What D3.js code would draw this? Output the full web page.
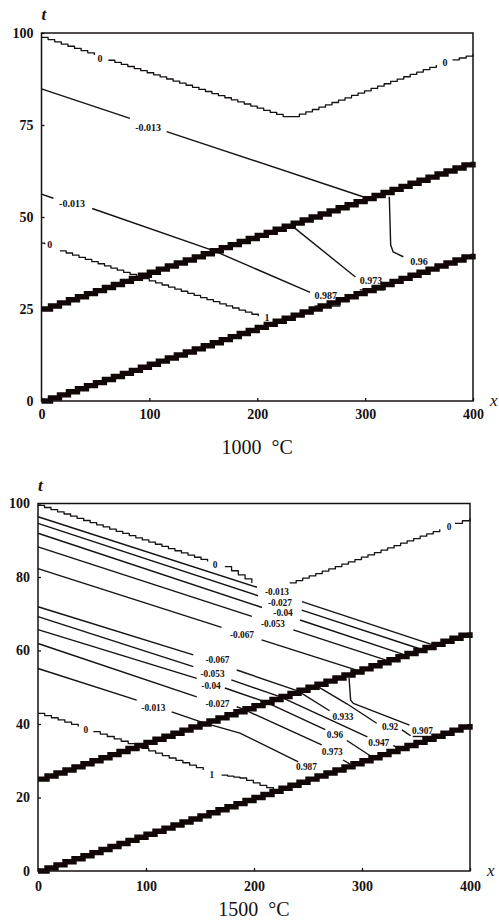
<!DOCTYPE html>
<html>
<head>
<meta charset="utf-8">
<script src="https://cdn.jsdelivr.net/npm/d3@7"></script>
<style>
  html, body { margin: 0; padding: 0; background: #fff; }
  svg { display: block; }
</style>
</head>
<body>
<svg id="chart" width="499" height="924"></svg>
<script>
// ---- data -------------------------------------------------------------
const xTicks = [0, 100, 200, 300, 400];
const tTicks1000 = [0, 25, 50, 75, 100];
const tTicks1500 = [0, 20, 40, 60, 80, 100];

// the two fronts bounding the strip: t = x/10 and t = 25 + x/10
const fronts = [
  [[0, 0], [400, 40]],
  [[0, 25], [400, 65]]
];

// isolines, 1000 °C: pieces of polylines in (x, t)
const iso1000 = [
  { stepped: true,  pieces: [[[0, 98.8], [49, 94]], [[62, 92.6], [224, 77.3], [233, 77.3], [366, 91.3]], [[381, 92.7], [400, 94.2]]] },
  { stepped: false, pieces: [[[0, 84.8], [82, 76.8]], [[116, 73.2], [298, 55.5]]] },
  { stepped: false, pieces: [[[0, 56.2], [11, 55.1]], [[47, 52.3], [160, 40.8], [249, 29.5]], [[253, 25.8], [277, 25.8]]] },
  { stepped: true,  pieces: [[[0, 42.9], [3, 42.6]], [[17, 40.8], [88, 33.8], [201, 23]]] },
  { stepped: false, pieces: [[[230.5, 48], [291, 33.7]], [[295, 30.2], [318, 30.2]]] },
  { stepped: false, pieces: [[[322.4, 55.5], [323.7, 42.4], [326, 40.5], [335.4, 39.2]]] }
];
const labels1000 = [
  { text: "0", x: 54.3, t: 93.1 },
  { text: "0", x: 374, t: 92.1 },
  { text: "-0.013", x: 98.8, t: 74.2 },
  { text: "-0.013", x: 28.3, t: 53.8 },
  { text: "0", x: 7.6, t: 42.4 },
  { text: "1", x: 209, t: 22.6 },
  { text: "0.987", x: 263.5, t: 28.6 },
  { text: "0.973", x: 305.5, t: 32.8 },
  { text: "0.96", x: 350, t: 38 }
];

// isolines, 1500 °C
const iso1500 = [
  { stepped: true,  pieces: [[[0, 99.5], [157, 84.2]], [[173, 82.8], [198, 78.4]], [[233, 78.4], [372, 93]], [[386, 94.6], [400, 96]]] },
  // upper family, ending on the upper front
  { stepped: false, pieces: [[[0, 96.4], [202.8, 77.2]], [[244.4, 73.3], [367, 61.4]]] },
  { stepped: false, pieces: [[[0, 94.6], [203.7, 74.9]], [[244.2, 71.0], [354, 60.4]]] },
  { stepped: false, pieces: [[[0, 91.9], [207.4, 71.7]], [[242.6, 68.3], [339, 58.9]]] },
  { stepped: false, pieces: [[[0, 88.2], [198, 69.3]], [[236.4, 65.6], [323, 57.3]]] },
  { stepped: false, pieces: [[[0, 82.3], [170, 66.3]], [[207, 62.9], [295.7, 54.6]]] },
  // lower family, crossing the upper front into the strip
  { stepped: false, pieces: [[[0, 71.9], [143.8, 58.8]], [[184, 54.7], [240.5, 49], [270, 43.6]]] },
  { stepped: false, pieces: [[[0, 69.2], [143.8, 55.6]], [[179, 52], [224.5, 47.4], [305, 36.5]], [[329, 34.2], [333, 33.4]]] },
  { stepped: false, pieces: [[[0, 65.7], [147, 52.4]], [[173, 49.8], [210.5, 46], [266, 38.5]], [[286, 35.5], [308, 31.3]]] },
  { stepped: false, pieces: [[[0, 61.9], [147, 47.4]], [[184, 44.7], [190.5, 44], [262.7, 34.3]], [[282.4, 30.2], [289, 29.1]]] },
  { stepped: false, pieces: [[[0, 55.1], [91.4, 46.5]], [[123.8, 43.3], [153.5, 40.3], [187, 37.5], [241, 29.7]]] },
  { stepped: true,  pieces: [[[0, 42.9], [37.3, 39.3]], [[51.2, 37.9], [90, 34], [153, 27.5]], [[170, 26.1], [187, 25.3], [218, 22]]] },
  // isolines leaving the upper front inside the strip
  { stepped: false, pieces: [[[258, 50.4], [286, 45.5], [313.6, 40.2]], [[337, 38.4], [345, 36.8]]] },
  { stepped: false, pieces: [[[288, 52.6], [289.5, 46.5], [292, 45.6], [344, 39.7]], [[347, 36.6], [366, 36.6]]] }
];
const labels1500 = [
  { text: "0", x: 163.9, t: 83.3 },
  { text: "0", x: 380.6, t: 93.6 },
  { text: "-0.013", x: 221.3, t: 75.9 },
  { text: "-0.027", x: 224, t: 73.1 },
  { text: "-0.04", x: 226.9, t: 70.4 },
  { text: "-0.053", x: 217.6, t: 67.4 },
  { text: "-0.067", x: 188.9, t: 64.2 },
  { text: "-0.067", x: 166.2, t: 57.4 },
  { text: "-0.053", x: 161.6, t: 53.6 },
  { text: "-0.04", x: 160.2, t: 50.3 },
  { text: "-0.027", x: 166.2, t: 45.6 },
  { text: "-0.013", x: 106.8, t: 44.4 },
  { text: "0", x: 44.4, t: 38.4 },
  { text: "1", x: 161, t: 26.1 },
  { text: "0.987", x: 248.5, t: 28.4 },
  { text: "0.973", x: 272.5, t: 32.5 },
  { text: "0.96", x: 275, t: 37 },
  { text: "0.947", x: 315.5, t: 35 },
  { text: "0.933", x: 282.4, t: 41.9 },
  { text: "0.92", x: 326, t: 39.2 },
  { text: "0.907", x: 356, t: 38.3 }
];

// ---- drawing ----------------------------------------------------------
const ink = "#161010";
const svg = d3.select("#chart");

// a d3 curve that renders each segment as a staircase of fixed pitch
function curveStair(pitch) {
  return function (context) {
    let prev = null;
    return {
      areaStart() {}, areaEnd() {},
      lineStart() { prev = null; },
      lineEnd() {},
      point(x, y) {
        x = +x; y = +y;
        if (!prev) { context.moveTo(x, y); prev = [x, y]; return; }
        const [x0, y0] = prev;
        const n = Math.max(1, Math.round(Math.abs(x - x0) / pitch));
        for (let i = 1; i <= n; i++) {
          const xi = x0 + (x - x0) * i / n;
          const yA = y0 + (y - y0) * (i - 1) / n;
          const yB = y0 + (y - y0) * i / n;
          context.lineTo(xi, yA);
          context.lineTo(xi, yB);
        }
        prev = [x, y];
      }
    };
  };
}

const panels = [
  { title: "1000\u2002\u00B0C", tTicks: tTicks1000, iso: iso1000, labels: labels1000, labelSize: 10,
    left: 41.5, right: 473, top: 33, bottom: 401, titleY: 454, tickLabelY: 419 },
  { title: "1500\u2002\u00B0C", tTicks: tTicks1500, iso: iso1500, labels: labels1500, labelSize: 9.3,
    left: 38, right: 470, top: 503.5, bottom: 871, titleY: 916, tickLabelY: 891 }
];

panels.forEach(p => {
  const x = d3.scaleLinear().domain([0, 400]).range([p.left, p.right]);
  const y = d3.scaleLinear().domain([0, 100]).range([p.bottom, p.top]);
  const g = svg.append("g");

  const smooth = d3.line().x(d => x(d[0])).y(d => y(d[1]));
  const fine = d3.line().x(d => x(d[0])).y(d => y(d[1])).curve(curveStair(6.5));
  const heavy = d3.line().x(d => x(d[0])).y(d => y(d[1])).curve(curveStair(9));

  // isolines
  p.iso.forEach(c => {
    c.pieces.forEach(piece => {
      g.append("path")
        .attr("d", (c.stepped ? fine : smooth)(piece))
        .attr("fill", "none")
        .attr("stroke", ink)
        .attr("stroke-width", c.stepped ? 1.3 : 1.4)
        .attr("stroke-linejoin", "round");
    });
  });

  // fronts
  fronts.forEach(f => {
    g.append("path")
      .attr("d", heavy(f))
      .attr("fill", "none")
      .attr("stroke", "#120707")
      .attr("stroke-width", 5.4)
      .attr("stroke-linejoin", "miter");
  });

  // isoline values
  g.selectAll("text.val").data(p.labels).join("text")
    .attr("class", "val")
    .attr("x", d => x(d.x))
    .attr("y", d => y(d.t))
    .attr("dy", "0.35em")
    .attr("text-anchor", "middle")
    .attr("font-family", "Liberation Serif, serif")
    .attr("font-weight", "bold")
    .attr("font-size", p.labelSize)
    .attr("fill", ink)
    .text(d => d.text);

  // frame
  g.append("rect")
    .attr("x", p.left).attr("y", p.top)
    .attr("width", p.right - p.left).attr("height", p.bottom - p.top)
    .attr("fill", "none").attr("stroke", ink).attr("stroke-width", 1.5);

  // axes
  const xAxis = d3.axisBottom(x).tickValues(xTicks).tickSize(-3).tickPadding(0).tickFormat(d3.format("d"));
  const gx = g.append("g").attr("transform", `translate(0,${p.bottom})`).call(xAxis);
  gx.select(".domain").remove();
  gx.selectAll("line").attr("stroke", ink).attr("stroke-width", 1.3);
  gx.selectAll("text")
    .attr("y", p.tickLabelY - p.bottom).attr("dy", 0)
    .attr("font-family", "Liberation Serif, serif").attr("font-weight", "bold")
    .attr("font-size", 14).attr("fill", ink);

  const yAxis = d3.axisLeft(y).tickValues(p.tTicks).tickSize(-3).tickPadding(8).tickFormat(d3.format("d"));
  const gy = g.append("g").attr("transform", `translate(${p.left},0)`).call(yAxis);
  gy.select(".domain").remove();
  gy.selectAll("line").attr("stroke", ink).attr("stroke-width", 1.3);
  gy.selectAll("text")
    .attr("font-family", "Liberation Serif, serif").attr("font-weight", "bold")
    .attr("font-size", 14).attr("fill", ink);

  // axis names
  g.append("text").attr("x", p.left).attr("y", p.top - 13)
    .attr("font-family", "Liberation Serif, serif").attr("font-style", "italic")
    .attr("font-weight", "bold").attr("font-size", 17).attr("fill", ink).text("t");
  g.append("text").attr("x", p.right + 17).attr("y", p.bottom + 5)
    .attr("font-family", "Liberation Serif, serif").attr("font-style", "italic")
    .attr("font-size", 17).attr("fill", ink).text("x");

  // temperature caption
  g.append("text").attr("x", (p.left + p.right) / 2).attr("y", p.titleY)
    .attr("text-anchor", "middle")
    .attr("font-family", "Liberation Serif, serif")
    .attr("font-size", 20).attr("fill", ink).text(p.title);
});
</script>
</body>
</html>
